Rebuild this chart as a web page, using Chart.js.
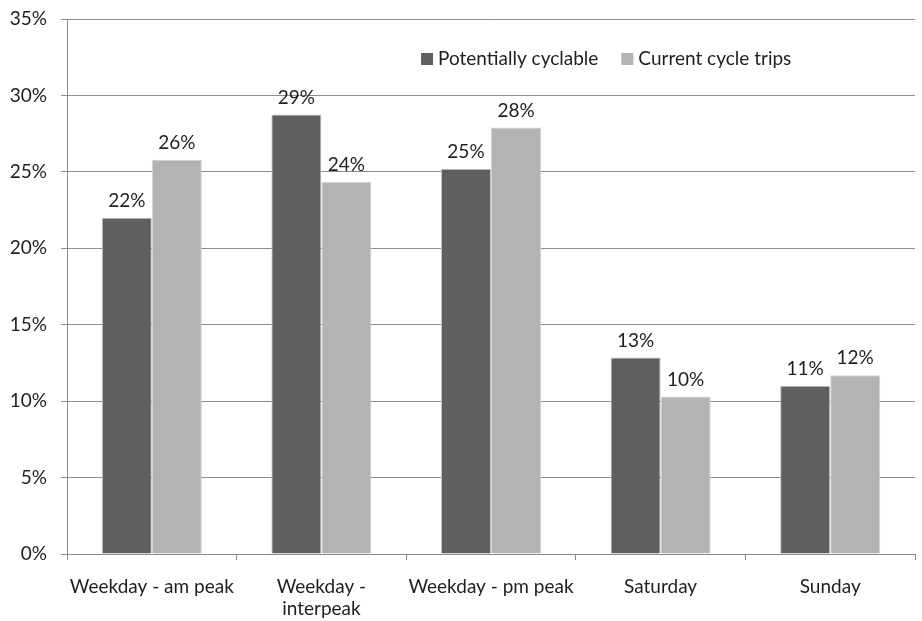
<!DOCTYPE html>
<html>
<head>
<meta charset="utf-8">
<script src="https://cdn.jsdelivr.net/npm/chart.js@4"></script>
<style>
  html, body { margin: 0; padding: 0; background: #fff; }
  #wrap { width: 922px; height: 621px; }
</style>
</head>
<body>
<div id="wrap"><canvas id="tripChart"></canvas></div>
<script>
const categories = ["Weekday - am peak", ["Weekday -", "interpeak"], "Weekday - pm peak", "Saturday", "Sunday"]
const potentiallyCyclable = [22.0, 28.75, 25.2, 12.85, 11.0]
const currentCycleTrips = [25.8, 24.35, 27.9, 10.3, 11.7]
const yTicks = [0, 5, 10, 15, 20, 25, 30, 35]

const FONT = "Lato"
const TEXT = "#1e1e1e"

// value labels above every bar, rounded to whole percent
const barLabels = {
    id: "barLabels",
    afterDatasetsDraw(chart) {
        const ctx = chart.ctx
        ctx.save()
        ctx.font = "19px " + FONT
        ctx.fillStyle = TEXT
        ctx.textAlign = "center"
        ctx.textBaseline = "alphabetic"
        chart.data.datasets.forEach((ds, i) => {
            chart.getDatasetMeta(i).data.forEach((bar, j) => {
                ctx.fillText(Math.round(ds.data[j]) + "%", bar.x, bar.y - 11)
            })
        })
        ctx.restore()
    }
}

// legend sitting inside the plot, upper right
const insideLegend = {
    id: "insideLegend",
    afterDraw(chart) {
        const ctx = chart.ctx
        const area = chart.chartArea
        const w = area.right - area.left
        let x = area.left + w * 0.4175
        const y = area.top + 40
        ctx.save()
        ctx.font = "19px " + FONT
        ctx.textBaseline = "middle"
        chart.data.datasets.forEach(ds => {
            ctx.fillStyle = ds.backgroundColor
            ctx.fillRect(x, y - 6, 12, 12)
            ctx.fillStyle = TEXT
            ctx.fillText(ds.label, x + 17, y)
            x += 17 + ctx.measureText(ds.label).width + 23
        })
        ctx.restore()
    }
}

const ctx = document.getElementById("tripChart").getContext("2d")
new Chart(ctx, {
    type: "bar",
    data: {
        labels: categories,
        datasets: [
            {
                label: "Potentially cyclable",
                data: potentiallyCyclable,
                backgroundColor: "#5f5f5f",
                borderColor: "#c4c4c4",
                borderWidth: 1,
            },
            {
                label: "Current cycle trips",
                data: currentCycleTrips,
                backgroundColor: "#b3b3b3",
                borderColor: "#d2d2d2",
                borderWidth: 1,
            }
        ]
    },
    options: {
        responsive: true,
        maintainAspectRatio: false,
        animation: false,
        layout: { padding: { top: 19, right: 7, left: 0, bottom: 0 } },
        datasets: {
            bar: { categoryPercentage: 0.59, barPercentage: 1.0 }
        },
        plugins: {
            legend: { display: false },
            tooltip: { enabled: false },
        },
        scales: {
            x: {
                grid: {
                    display: true,
                    offset: true,
                    drawOnChartArea: false,
                    drawTicks: true,
                    tickLength: 6,
                    color: "#8c8c8c",
                },
                border: { color: "#8c8c8c", width: 1 },
                ticks: {
                    color: TEXT,
                    font: { family: FONT, size: 19, lineHeight: 1.2 },
                    padding: 15,
                    maxRotation: 0,
                    autoSkip: false,
                },
                afterFit(scale) { scale.height = 67 },
            },
            y: {
                min: 0,
                max: 35,
                afterBuildTicks(scale) { scale.ticks = yTicks.map(v => ({ value: v })) },
                grid: {
                    color: "#8c8c8c",
                    tickLength: 6,
                },
                border: { color: "#8c8c8c", width: 1 },
                ticks: {
                    color: TEXT,
                    font: { family: FONT, size: 19 },
                    padding: 14,
                    callback: v => v + "%",
                },
                afterFit(scale) {
                    scale.width = 67
                    scale.paddingTop = 0
                    scale.paddingBottom = 0
                },
            }
        }
    },
    plugins: [barLabels, insideLegend]
})
</script>
</body>
</html>
